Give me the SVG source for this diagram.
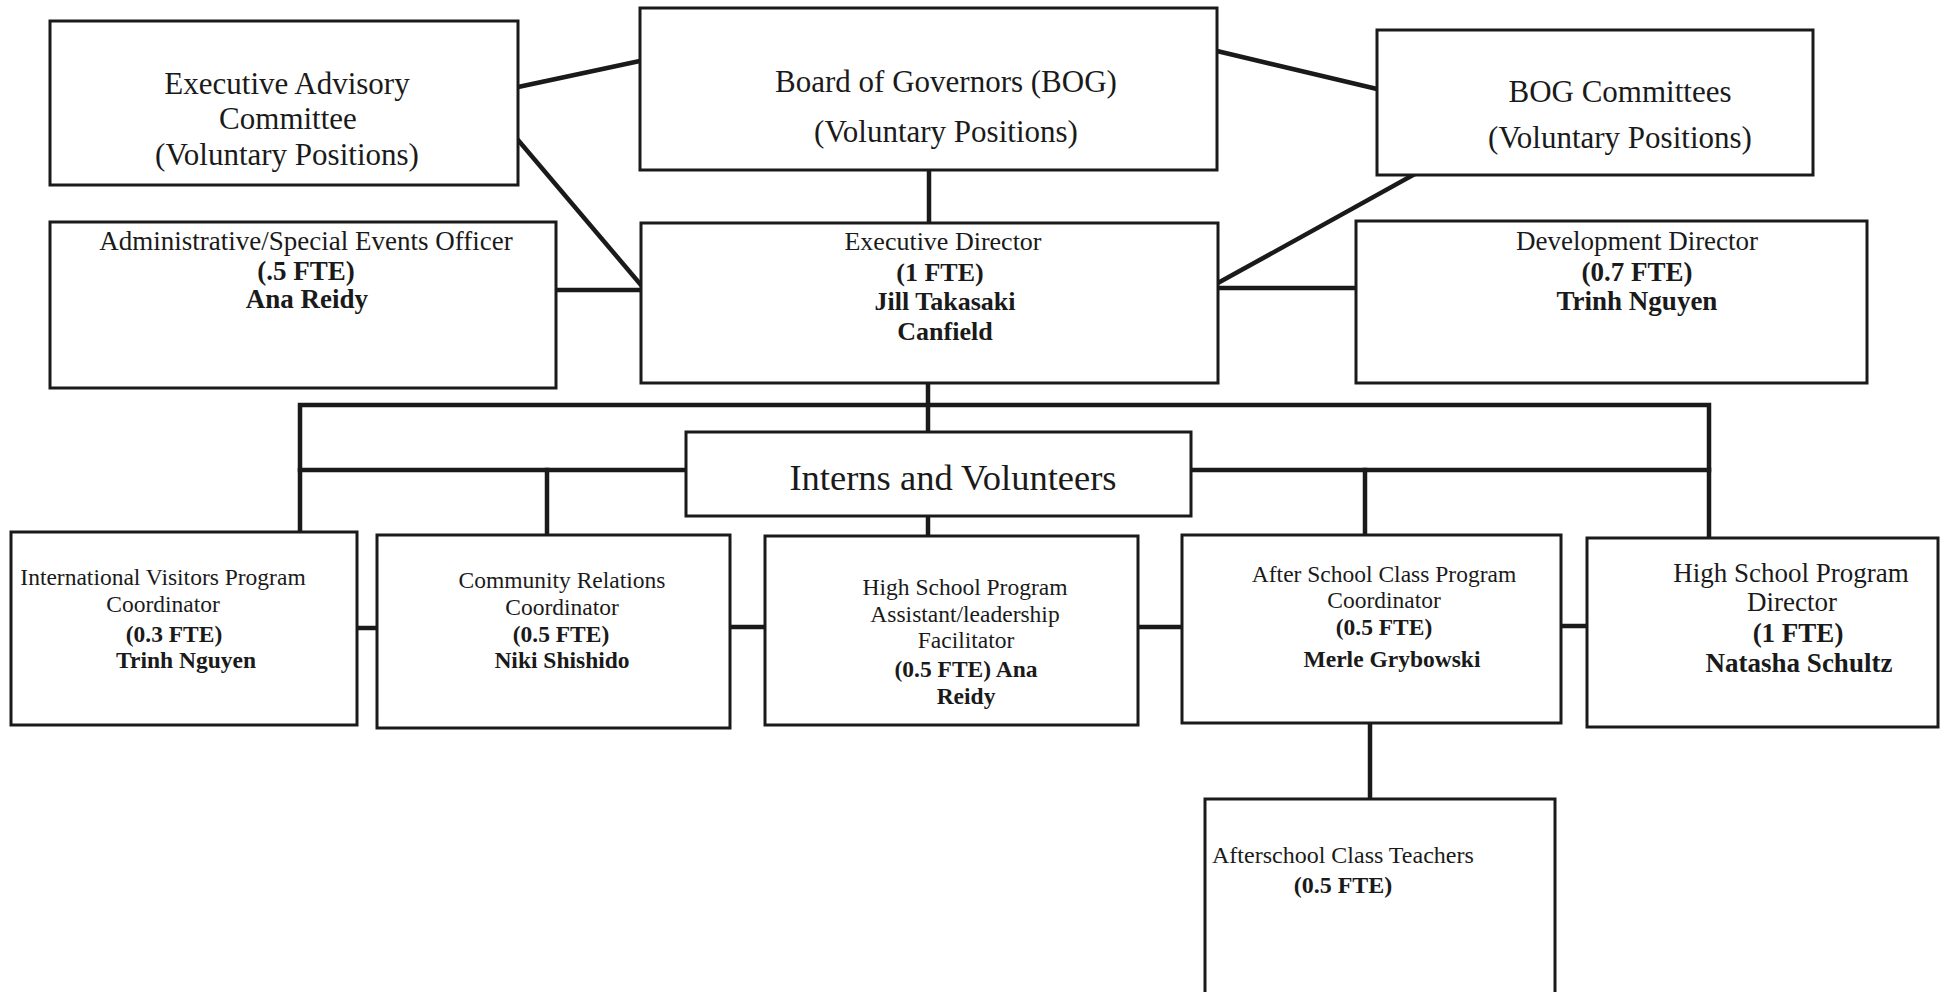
<svg xmlns="http://www.w3.org/2000/svg" width="1946" height="992" viewBox="0 0 1946 992">
<style>
.box{fill:#fff;stroke:#1a1a1a;stroke-width:3}
.c{stroke:#1a1a1a;stroke-width:4.5;fill:none;stroke-linecap:square}
text{font-family:"Liberation Serif","Times New Roman",serif;fill:#1a1a1a;text-anchor:middle}
.t31{font-size:31px}
.t27{font-size:27px}
.t26{font-size:26px}
.t24{font-size:23.5px}
.b{font-weight:bold}
</style>
<rect width="1946" height="992" fill="#fff"/>
<g id="connectors">
<line class="c" x1="518" y1="87" x2="640" y2="61"/>
<line class="c" x1="1217" y1="51" x2="1377" y2="89"/>
<line class="c" x1="518" y1="140" x2="641" y2="285"/>
<line class="c" x1="1413" y1="175" x2="1218" y2="283"/>
<line class="c" x1="929" y1="170" x2="929" y2="223"/>
<line class="c" x1="556" y1="290" x2="641" y2="290"/>
<line class="c" x1="1218" y1="288" x2="1356" y2="288"/>
<line class="c" x1="928" y1="383" x2="928" y2="432"/>
<polyline class="c" points="300,532 300,405 1709,405 1709,538"/>
<line class="c" x1="300" y1="470" x2="686" y2="470"/>
<line class="c" x1="1191" y1="470" x2="1709" y2="470"/>
<line class="c" x1="547" y1="470" x2="547" y2="535"/>
<line class="c" x1="1365" y1="470" x2="1365" y2="535"/>
<line class="c" x1="928" y1="516" x2="928" y2="536"/>
<line class="c" x1="357" y1="628" x2="377" y2="628"/>
<line class="c" x1="730" y1="627" x2="765" y2="627"/>
<line class="c" x1="1138" y1="627" x2="1182" y2="627"/>
<line class="c" x1="1561" y1="626" x2="1587" y2="626"/>
<line class="c" x1="1370" y1="723" x2="1370" y2="799"/>
</g>
<g id="exec-advisory">
<rect class="box" x="50" y="21" width="468" height="164"/>
<text class="t31" x="287" y="94">Executive Advisory</text>
<text class="t31" x="288" y="129">Committee</text>
<text class="t31" x="287" y="165">(Voluntary Positions)</text>
</g>
<g id="bog">
<rect class="box" x="640" y="8" width="577" height="162"/>
<text class="t31" x="946" y="92">Board of Governors (BOG)</text>
<text class="t31" x="946" y="142">(Voluntary Positions)</text>
</g>
<g id="bog-committees">
<rect class="box" x="1377" y="30" width="436" height="145"/>
<text class="t31" x="1620" y="102">BOG Committees</text>
<text class="t31" x="1620" y="148">(Voluntary Positions)</text>
</g>
<g id="admin">
<rect class="box" x="50" y="222" width="506" height="166"/>
<text class="t27" x="306" y="250">Administrative/Special Events Officer</text>
<text class="t27 b" x="306" y="280">(.5 FTE)</text>
<text class="t27 b" x="307" y="308">Ana Reidy</text>
</g>
<g id="exec-director">
<rect class="box" x="641" y="223" width="577" height="160"/>
<text class="t26" x="943" y="250">Executive Director</text>
<text class="t26 b" x="940" y="281">(1 FTE)</text>
<text class="t26 b" x="945" y="310">Jill Takasaki</text>
<text class="t26 b" x="945" y="340">Canfield</text>
</g>
<g id="dev-director">
<rect class="box" x="1356" y="221" width="511" height="162"/>
<text class="t27" x="1637" y="250">Development Director</text>
<text class="t27 b" x="1637" y="281">(0.7 FTE)</text>
<text class="t27 b" x="1637" y="310">Trinh Nguyen</text>
</g>
<g id="interns">
<rect class="box" x="686" y="432" width="505" height="84"/>
<text style="font-size:36.5px" x="953" y="490">Interns and Volunteers</text>
</g>
<g id="intl-visitors">
<rect class="box" x="11" y="532" width="346" height="193"/>
<text class="t24" x="163" y="585">International Visitors Program</text>
<text class="t24" x="163" y="612">Coordinator</text>
<text class="t24 b" x="174" y="642">(0.3 FTE)</text>
<text class="t24 b" x="186" y="668">Trinh Nguyen</text>
</g>
<g id="community-relations">
<rect class="box" x="377" y="535" width="353" height="193"/>
<text class="t24" x="562" y="588">Community Relations</text>
<text class="t24" x="562" y="615">Coordinator</text>
<text class="t24 b" x="561" y="642">(0.5 FTE)</text>
<text class="t24 b" x="562" y="668">Niki Shishido</text>
</g>
<g id="hs-assistant">
<rect class="box" x="765" y="536" width="373" height="189"/>
<text class="t24" x="965" y="595">High School Program</text>
<text class="t24" x="965" y="622">Assistant/leadership</text>
<text class="t24" x="966" y="648">Facilitator</text>
<text class="t24 b" x="966" y="677">(0.5 FTE) Ana</text>
<text class="t24 b" x="966" y="704">Reidy</text>
</g>
<g id="afterschool-coord">
<rect class="box" x="1182" y="535" width="379" height="188"/>
<text class="t24" x="1384" y="582">After School Class Program</text>
<text class="t24" x="1384" y="608">Coordinator</text>
<text class="t24 b" x="1384" y="635">(0.5 FTE)</text>
<text class="t24 b" x="1392" y="667">Merle Grybowski</text>
</g>
<g id="hs-director">
<rect class="box" x="1587" y="538" width="351" height="189"/>
<text class="t27" x="1791" y="582">High School Program</text>
<text class="t27" x="1792" y="611">Director</text>
<text class="t27 b" x="1798" y="642">(1 FTE)</text>
<text class="t27 b" x="1799" y="672">Natasha Schultz</text>
</g>
<g id="afterschool-teachers">
<rect class="box" x="1205" y="799" width="350" height="210"/>
<text class="t24" style="font-size:24px;text-anchor:start" x="1212" y="863">Afterschool Class Teachers</text>
<text class="t24 b" style="font-size:24px" x="1343" y="893">(0.5 FTE)</text>
</g>
</svg>
